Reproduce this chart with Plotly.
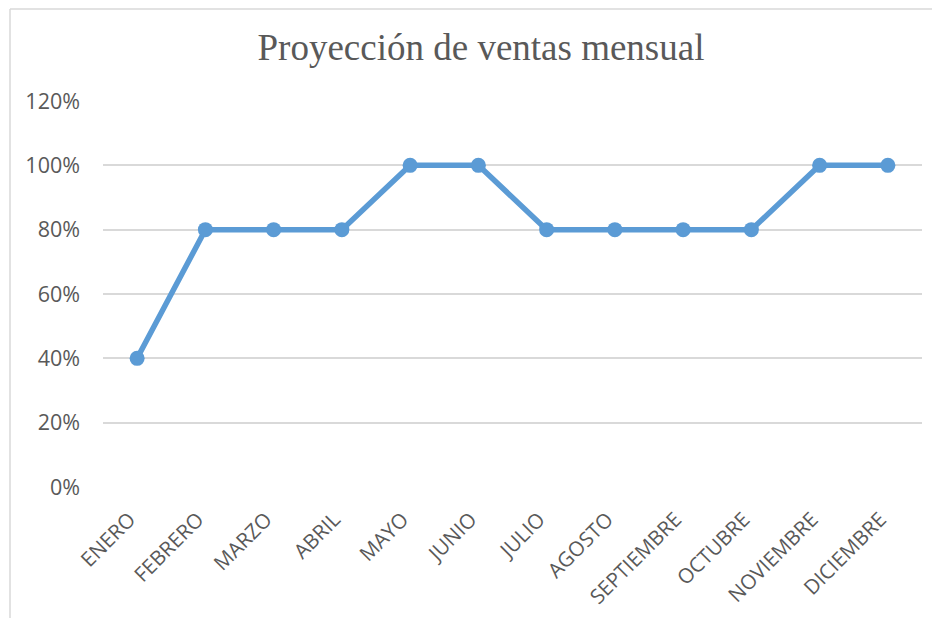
import plotly.graph_objects as go

months = ["ENERO", "FEBRERO", "MARZO", "ABRIL", "MAYO", "JUNIO", "JULIO",
          "AGOSTO", "SEPTIEMBRE", "OCTUBRE", "NOVIEMBRE", "DICIEMBRE"]
values = [0.40, 0.80, 0.80, 0.80, 1.00, 1.00, 0.80, 0.80, 0.80, 0.80, 1.00, 1.00]
y_ticks = [0, 0.2, 0.4, 0.6, 0.8, 1.0, 1.2]
y_tick_labels = ["0%", "20%", "40%", "60%", "80%", "100%", "120%"]

fig = go.Figure()
fig.add_trace(go.Scatter(
    x=months, y=values, mode="lines+markers",
    line=dict(color="#5B9BD5", width=5.5),
    marker=dict(color="#5B9BD5", size=15),
    showlegend=False,
))

# page body has an 8px margin; size the figure so it fits inside the window
OFF = 8
W, H = 940 - 2 * OFF, 626 - 2 * OFF
ml, mt = 103 - OFF, 101 - OFF
mr = W - (922 - OFF)
mb = H - (487 - OFF)
pw, ph = W - ml - mr, H - mt - mb

def px_x(x):
    return (x - OFF - ml) / pw

def px_y(y):
    return (H - mb - (y - OFF)) / ph

border = dict(color="#D9D9D9", width=1.5)
fig.update_layout(
    width=W, height=H,
    margin=dict(l=ml, r=mr, t=mt, b=mb, autoexpand=False),
    paper_bgcolor="white", plot_bgcolor="white",
    title=dict(text="Proyección de ventas mensual", x=(481 - OFF) / W, xanchor="center",
               y=1 - (47 - OFF) / H, yanchor="middle",
               font=dict(family="Liberation Serif", size=37, color="#595959")),
    font=dict(family="Open Sans", color="#595959"),
    xaxis=dict(type="category", showgrid=False, zeroline=False, showline=False,
               tickvals=months, ticktext=[m + "\u00a0\u00a0" for m in months],
               ticks="", tickangle=-45, tickfont=dict(size=20.5, color="#595959"),
               ticklabelstandoff=8, range=[-0.5, 11.5]),
    yaxis=dict(range=[0, 1.2], tickvals=y_ticks, ticktext=y_tick_labels,
               showgrid=True, gridcolor="#D9D9D9", gridwidth=1.5, zeroline=False,
               showline=False, ticks="", ticklen=0, ticklabelstandoff=22,
               tickfont=dict(size=21.5, color="#595959")),
    shapes=[
        dict(type="line", xref="paper", yref="paper",
             x0=px_x(10), x1=px_x(10), y0=px_y(H + OFF), y1=px_y(9), line=border),
        dict(type="line", xref="paper", yref="paper",
             x0=px_x(10), x1=px_x(W + OFF), y0=px_y(9), y1=px_y(9), line=border),
    ],
)
fig.write_html("out.html")
